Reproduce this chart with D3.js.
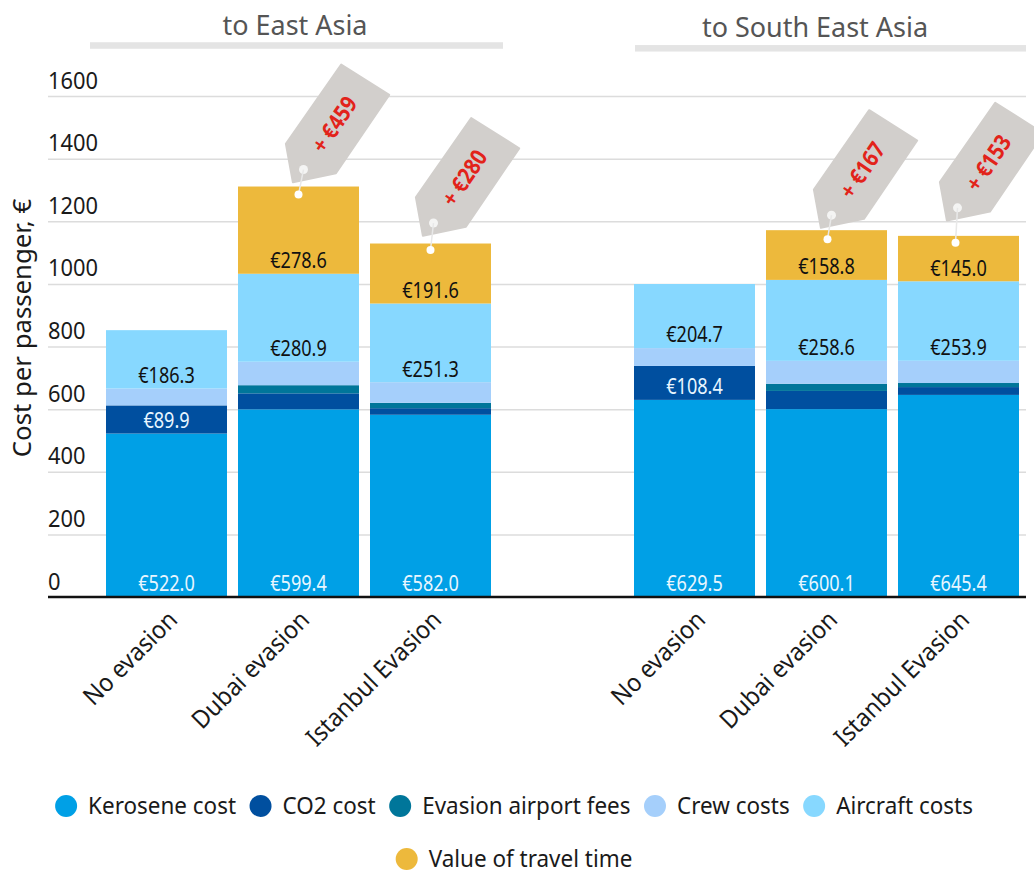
<!DOCTYPE html>
<html>
<head>
<meta charset="utf-8">
<script src="https://cdn.jsdelivr.net/npm/d3@7"></script>
<style>
html,body{margin:0;padding:0;background:#fff;}
svg{display:block;}
text{font-family:"Noto Sans",sans-serif;fill:#1a1a1a;}
.axis-y .domain{display:none;}
.axis-y .tick line{stroke:#dcdcdc;stroke-width:1.5;}
</style>
</head>
<body>
<div id="chart"></div>
<script>
const slots = ['e1','e2','e3','gap','s1','s2','s3'];
const barIds = ['e1','e2','e3','s1','s2','s3'];
const barNames = ['No evasion','Dubai evasion','Istanbul Evasion','No evasion','Dubai evasion','Istanbul Evasion'];

const kerosene = [522.0,599.4,582.0,629.5,600.1,645.4];
const co2 = [89.9,51,21,108.4,58,25];
const fees = [0,26,17,0,23,13];
const crew = [54,75,66,57,73,71];
const aircraft = [186.3,280.9,251.3,204.7,258.6,253.9];
const travel = [0,278.6,191.6,0,158.8,145.0];

const seriesNames = ['Kerosene cost','CO2 cost','Evasion airport fees','Crew costs','Aircraft costs','Value of travel time'];
const seriesColors = ['#00a0e6','#004f9f','#00769a','#a5cffb','#87d8ff','#edb93c'];
const seriesValues = [kerosene,co2,fees,crew,aircraft,travel];
// which bars print a value label, per series
const labelBars = [[0,1,2,3,4,5],[0,3],[],[],[0,1,2,3,4,5],[1,2,4,5]];
const labelColors = ['#e8f6ff','#e8f6ff',null,null,'#111','#111'];

const tagBars = ['e2','e3','s2','s3'];
const tagLabels = ['+ €459','+ €280','+ €167','+ €153'];
const tagHoleDx = [5,3,4,2];
const tagHoleDy = [-25,-27,-24,-35];
const tagDotDx = [0,0,1,-3];
const tagDotDy = [8,6.5,9,7];

const yTicks = [0,200,400,600,800,1000,1200,1400,1600];
const groupTitles = ['to East Asia','to South East Asia'];

const W = 1034, H = 871;
const svg = d3.select('#chart').append('svg').attr('width',W).attr('height',H);

// the original face is narrower than Noto Sans, so squeeze each text a bit
function squeeze(sel,f){
	sel.each(function(){
		const len = this.getComputedTextLength();
		d3.select(this).attr('textLength',len*f).attr('lengthAdjust','spacingAndGlyphs');
	});
}

const x = d3.scaleBand().domain(slots).range([106,1019]).paddingInner(11/132).paddingOuter(0);
const y = d3.scaleLinear().domain([0,1600]).range([597,96]);

////////////////////////////////////////////////////////////////////

const axisY = d3.axisLeft(y).tickValues(yTicks).tickSize(-978).tickPadding(0).tickFormat(d3.format('d'));
const axisYNode = svg.append('g').attr('class','axis-y').attr('transform','translate(48,0)').call(axisY);
axisYNode.selectAll('text')
	.attr('x',0).attr('dy',-8)
	.style('text-anchor','start')
	.style('font-size','23.5px')
	.call(squeeze,.93);
axisYNode.selectAll('.tick').filter(d=>d===0).select('line').style('stroke','none');

svg.append('text')
	.attr('transform','translate(31,328) rotate(-90)')
	.attr('text-anchor','middle')
	.style('font-size','26px')
	.text('Cost per passenger, €')
	.call(squeeze,.99);

////////////////////////////////////////////////////////////////////

const rows = barIds.map((id,i)=>{
	const row = {id:id};
	seriesNames.forEach((n,k)=>{row[n]=seriesValues[k][i];});
	return row;
});
const stacked = d3.stack().keys(seriesNames)(rows);

const layers = svg.selectAll('.layer').data(stacked).enter().append('g')
	.attr('class','layer')
	.attr('fill',(d,i)=>seriesColors[i]);

layers.selectAll('rect').data(d=>d).enter().append('rect')
	.attr('x',d=>x(d.data.id))
	.attr('width',x.bandwidth())
	.attr('y',d=>y(d[1]))
	.attr('height',d=>y(d[0])-y(d[1]));

stacked.forEach((layer,k)=>{
	labelBars[k].forEach(b=>{
		const d = layer[b];
		svg.append('text')
			.attr('x',x(d.data.id)+x.bandwidth()/2)
			.attr('y',y(d[0])-13)
			.attr('dy','.35em')
			.attr('text-anchor','middle')
			.style('font-size','21px')
			.style('fill',labelColors[k])
			.text('€'+(d[1]-d[0]).toFixed(1))
			.call(squeeze,.86);
	});
});

svg.append('line')
	.attr('x1',48).attr('x2',1026)
	.attr('y1',y(0)).attr('y2',y(0))
	.attr('stroke','#111').attr('stroke-width',2.5);

////////////////////////////////////////////////////////////////////

barIds.forEach((id,i)=>{
	svg.append('text')
		.attr('transform',`translate(${x(id)+x.bandwidth()/2},${y(0)+12}) rotate(-45)`)
		.attr('text-anchor','end')
		.attr('dy','.7em')
		.style('font-size','25px')
		.text(barNames[i])
		.call(squeeze,.93);
});

const titleRules = [[90,503,45.5,34.5],[635,1026,48.3,37]];
groupTitles.forEach((t,i)=>{
	const r = titleRules[i];
	svg.append('rect')
		.attr('x',r[0]).attr('width',r[1]-r[0])
		.attr('y',r[2]-3.25).attr('height',6.5)
		.attr('fill','#e4e4e4');
	svg.append('text')
		.attr('x',i===0?295:815)
		.attr('y',r[3])
		.attr('text-anchor','middle')
		.style('font-size','27.5px')
		.style('fill','#555')
		.text(t)
		.call(squeeze,.98);
});

////////////////////////////////////////////////////////////////////

const tagShape = 'M37.7,-105L85.7,-74.7L32.4,3.7L-10.6,12.7L-17.6,-25.7Z';
tagBars.forEach((id,i)=>{
	const idx = barIds.indexOf(id);
	const total = d3.sum(seriesValues,s=>s[idx]);
	const dotX = x(id)+x.bandwidth()/2+tagDotDx[i];
	const dotY = y(total)+tagDotDy[i];
	const holeX = dotX+tagHoleDx[i];
	const holeY = dotY+tagHoleDy[i];
	const g = svg.append('g').attr('transform',`translate(${holeX},${holeY})`);
	g.append('path').attr('d',tagShape)
		.attr('fill','#d2cfcc').attr('stroke','#d2cfcc')
		.attr('stroke-width',2).attr('stroke-linejoin','round');
	g.append('circle').attr('r',4.5).attr('fill','#f4f4f3');
	g.append('text')
		.attr('transform','translate(31,-45) rotate(-56)')
		.attr('text-anchor','middle')
		.attr('dy','.35em')
		.style('font-size','23px')
		.style('font-weight','700')
		.style('fill','#e2231a')
		.text(tagLabels[i])
		.call(squeeze,.86);
	svg.append('line')
		.attr('x1',dotX).attr('y1',dotY)
		.attr('x2',holeX).attr('y2',holeY)
		.attr('stroke','#e8e8e8').attr('stroke-width',1.5);
	svg.append('circle').attr('cx',dotX).attr('cy',dotY).attr('r',4).attr('fill','#fff');
});

////////////////////////////////////////////////////////////////////

const legendRows = [[0,1,2,3,4],[5]];
const legendRowY = [806,859];
const legendTextGap = 11, legendItemGap = 13.5;
legendRows.forEach((row,r)=>{
	const g = svg.append('g');
	let cx = 0;
	row.forEach(k=>{
		g.append('circle').attr('cx',cx+11).attr('cy',legendRowY[r]).attr('r',11).attr('fill',seriesColors[k]);
		const t = g.append('text')
			.attr('x',cx+22+legendTextGap)
			.attr('y',legendRowY[r])
			.attr('dy','.35em')
			.style('font-size','23.5px')
			.text(seriesNames[k])
			.call(squeeze,.955);
		cx += 22+legendTextGap+t.attr('textLength')*1+legendItemGap;
	});
	g.attr('transform',`translate(${514-(cx-legendItemGap)/2},0)`);
});
</script>
</body>
</html>
